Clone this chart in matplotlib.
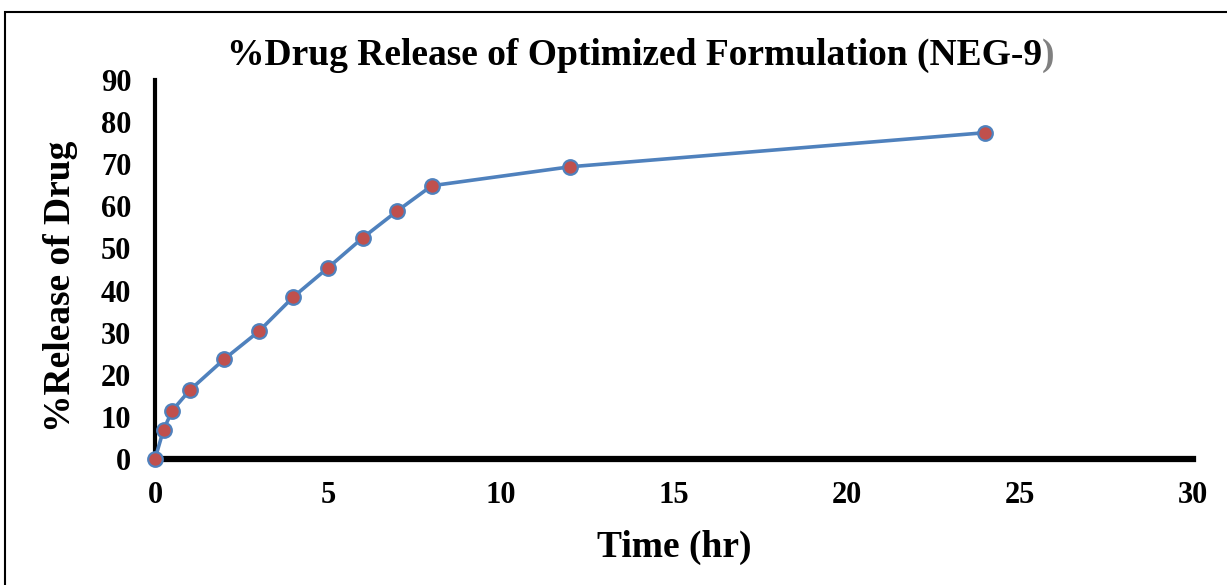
# %Drug release of optimized formulation (NEG-9)

import matplotlib.pyplot as plt
from matplotlib.patches import Rectangle

# data
time_hr = [0, 0.25, 0.5, 1, 2, 3, 4, 5, 6, 7, 8, 12, 24]
release = [0, 7, 11.5, 16.3, 23.7, 30.3, 38.5, 45.4, 52.5, 58.9, 64.9, 69.4, 77.5]
x_ticks = [0, 5, 10, 15, 20, 25, 30]
y_ticks = [0, 10, 20, 30, 40, 50, 60, 70, 80, 90]

plt.rcParams['font.family'] = ['Liberation Serif', 'DejaVu Serif']
plt.rcParams['font.weight'] = 'bold'

fig = plt.figure(figsize=(12.27, 5.85), dpi=100)
ax = fig.add_axes([0.1263, 0.2154, 0.8460, 0.6478])

ax.plot(time_hr, release, color='#4F81BD', lw=2.6, marker='o', ms=10.5,
        mfc='#C0504D', mec='#4F81BD', mew=1.6, zorder=3, clip_on=False)

ax.set_xlim(0, 30)
ax.set_ylim(0, 90)
ax.set_xticks(x_ticks)
ax.set_yticks(y_ticks)
ax.tick_params(length=0, labelsize=22)
ax.tick_params(axis='x', pad=16)
ax.tick_params(axis='y', pad=17)

for s in ['top', 'right']:
    ax.spines[s].set_visible(False)
ax.spines['left'].set_linewidth(3)
ax.spines['bottom'].set_linewidth(4.5)

ax.set_xlabel('Time (hr)', fontsize=27, fontweight='bold', labelpad=14)
ax.set_ylabel('%Release of Drug', fontsize=27, fontweight='bold')
ax.yaxis.set_label_coords(-0.074, 0.455)

# title, closing bracket drawn in grey as in the original
t = fig.text(0.517, 0.906, '%Drug Release of Optimized Formulation (NEG-9', fontsize=27,
             fontweight='bold', ha='center', va='center')
ax.annotate(')', xy=(1, 0), xycoords=t, fontsize=27, fontweight='bold',
            color='#808080', ha='left', va='bottom', annotation_clip=False)

# outer frame
fig.patches.append(Rectangle((5/1227, -0.1), 1.2, 0.1 + 1 - 12/585,
                             transform=fig.transFigure, fill=False,
                             edgecolor='black', lw=1.5))

plt.savefig('out.png', dpi=100)
